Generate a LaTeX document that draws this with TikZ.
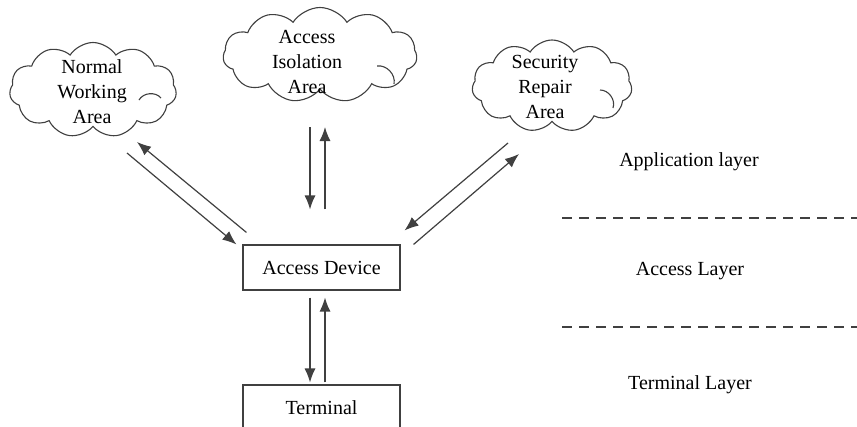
\documentclass[tikz,border=0pt]{standalone}
\usepackage{fontspec}
\setmainfont{Liberation Serif}
\usetikzlibrary{shapes.symbols,arrows.meta,calc}
\begin{document}
\begin{tikzpicture}[x=1pt,y=-1pt,
  lbl/.style={font=\fontsize{20}{25}\selectfont, text=black, align=center},
  area/.style={cloud, cloud puffs=11, cloud puff arc=115, draw=black!75,
    line width=1.1pt, inner sep=0pt},
  fold/.style={draw=black!75, line width=1.1pt},
  unit/.style={draw=black!75, line width=1.1pt, minimum width=157, minimum height=45, lbl},
  arr/.style={draw=black!75, line width=1.2pt, -{Latex[length=14pt,width=11pt]}},
  sep/.style={draw=black!75, line width=1.8pt, dash pattern=on 10pt off 7pt}]
\clip (0,0) rectangle (857,426);
\fill[white] (0,0) rectangle (857,426);

% service areas
\node[area, minimum width=167, minimum height=95] (nw) at (93,90) {};
\node[lbl] (nwt) at (92,92) {Normal\\Working\\Area};
\node[area, minimum width=194, minimum height=95] (iso) at (320,55) {};
\node[lbl] (isot) at (307,62) {Access\\Isolation\\Area};
\node[area, minimum width=160, minimum height=92] (sr) at (552,86) {};
\node[lbl] (srt) at (545,87) {Security\\Repair\\Area};

% inner folds of the clouds
\draw[fold] ($(nw.center)+(46,10)$) to[bend left=55] ($(nw.center)+(68,8)$);
\draw[fold] ($(iso.center)+(57,11)$) to[bend left=55] ($(iso.center)+(74,29)$);
\draw[fold] ($(sr.center)+(48,4)$) to[bend left=55] ($(sr.center)+(61,22)$);

% devices
\node[unit] (dev) at (321.5,267.5) {Access Device};
\node[unit, minimum height=46] (term) at (321.5,408) {Terminal};

% layer labels and separators
\node[lbl] (app) at (689,162) {Application layer};
\node[lbl] (acc) at (690,271) {Access Layer};
\node[lbl] (ter) at (690,385) {Terminal Layer};
\draw[sep] (562,218) -- (862,218);
\draw[sep] (562,327) -- (862,327);

% connectors: normal working area
\draw[arr] ($(nw.center)+(34,63)$) -- ($(dev.north west)+(-6,0)$);
\draw[arr] ($(dev.north west)+(4,-12)$) -- ($(nw.center)+(44,52)$);
% connectors: access isolation area
\draw[arr] ($(iso.center)+(-10,72)$) -- ($(dev.north)+(-11.5,-35)$);
\draw[arr] ($(dev.north)+(3.5,-35)$) -- ($(iso.center)+(5,72)$);
% connectors: security repair area
\draw[arr] ($(sr.center)+(-44,57)$) -- ($(dev.north east)+(4,-14)$);
\draw[arr] ($(dev.north east)+(13,0)$) -- ($(sr.center)+(-33,68)$);
% connectors: terminal
\draw[arr] ($(dev.south)+(-11.5,7)$) -- ($(term.north)+(-11.5,-2)$);
\draw[arr] ($(term.north)+(3.5,-2)$) -- ($(dev.south)+(3.5,7)$);
\end{tikzpicture}
\end{document}
